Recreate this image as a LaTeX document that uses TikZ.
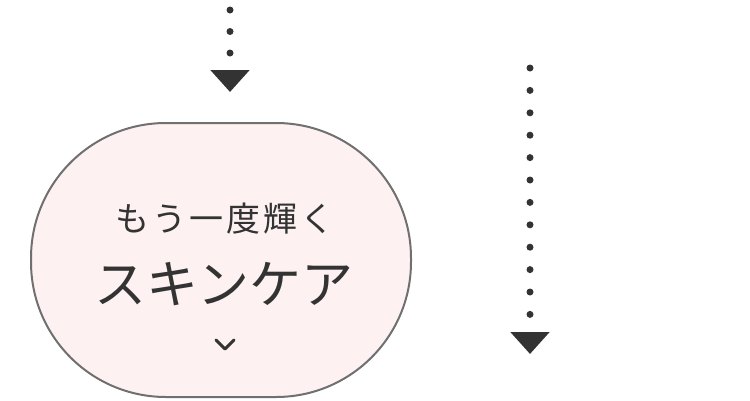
\documentclass[tikz,border=0pt]{standalone}
\usepackage{fontspec}
\newfontfamily\cjk{Noto Sans CJK JP}
\usetikzlibrary{arrows.meta}
\definecolor{inkgray}{HTML}{333333}
\definecolor{rimgray}{HTML}{707070}
\definecolor{blush}{HTML}{FDF1F1}
\tikzset{
  flowdots/.style={draw=inkgray, line width=7pt, line cap=round, dash pattern=on 0pt off 21.5pt,
    -{Triangle[width=38pt,length=22pt]}, shorten >=0pt},
  pillbox/.style={draw=rimgray, line width=2pt, fill=blush, rounded corners=135pt,
    minimum width=380pt, minimum height=274pt},
}
\begin{document}
\begin{tikzpicture}[x=1pt,y=-1pt]
\useasboundingbox (0,0) rectangle (750,400);

\node at (221,260)[pillbox] (pill) {};
\node at (225,219)[font=\cjk\fontsize{34}{34}\selectfont, text=inkgray] (line1) {も\hspace{3pt}う\hspace{3pt}一\hspace{3pt}度\hspace{3pt}輝\hspace{3pt}く};
\node at (224,284)[font=\cjk\fontsize{52}{52}\selectfont, text=inkgray] (line2) {スキンケア};
\draw[inkgray, line width=3pt, line cap=round, line join=round] (216,340) -- (225,349) -- (234,340);

\coordinate (leftTop) at (230,10);
\coordinate (leftEnd) at (230,92);
\coordinate (rightTop) at (530,68);
\coordinate (rightEnd) at (530,354);
\draw[flowdots] (leftTop) -- (leftEnd);
\draw[flowdots, dash pattern=on 0pt off 22.4pt] (rightTop) -- (rightEnd);

\end{tikzpicture}
\end{document}
